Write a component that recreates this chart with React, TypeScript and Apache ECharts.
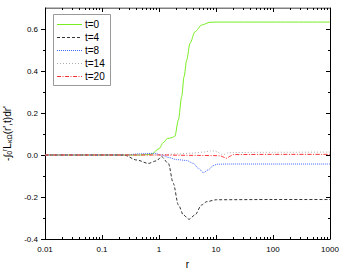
import React, { useEffect, useRef } from "react";
import * as echarts from "echarts";

// ---- data ----
const rT0 = [0.01, 0.1, 0.5, 0.74, 1.0, 1.2, 1.4, 1.7, 1.9, 2.19, 2.5, 2.75, 3.06, 3.5, 4.28, 5.6, 7.85, 10, 100, 1000];
const vT0 = [0, 0, 0, 0.004, 0.03, 0.06, 0.078, 0.083, 0.09, 0.167, 0.278, 0.373, 0.452, 0.532, 0.587, 0.619, 0.632, 0.633, 0.633, 0.633];

const rT4 = [0.01, 0.24, 0.41, 0.65, 0.9, 1.11, 1.46, 1.78, 2.19, 2.69, 3.36, 4.26, 5.6, 6.9, 10.2, 100, 1000];
const vT4 = [0, 0, -0.024, -0.04, -0.028, -0.008, -0.04, -0.135, -0.238, -0.286, -0.306, -0.286, -0.238, -0.222, -0.213, -0.212, -0.212];

const rT8 = [0.01, 0.25, 0.5, 0.85, 1.1, 1.5, 2.04, 3.06, 4.0, 4.9, 6.0, 7.3, 8.9, 10.4, 15, 100, 1000];
const vT8 = [0, 0, 0.006, 0.008, 0.0, -0.012, -0.022, -0.026, -0.04, -0.063, -0.084, -0.071, -0.051, -0.044, -0.043, -0.043, -0.043];

const rT14 = [0.01, 0.8, 1.2, 2.0, 4.0, 6.0, 8.0, 9.5, 11, 12.5, 14, 16, 20, 100, 1000];
const vT14 = [0, 0, 0.002, 0.005, 0.009, 0.014, 0.019, 0.019, 0.012, 0.004, 0.003, 0.01, 0.012, 0.013, 0.014];

const rT20 = [0.01, 1, 5, 10, 12, 13.5, 15.5, 17.5, 20, 100, 1000];
const vT20 = [0, 0, -0.002, -0.003, -0.004, -0.01, -0.016, -0.006, 0.002, 0.003, 0.003];

const seriesNames = ["t=0", "t=4", "t=8", "t=14", "t=20"];
const seriesR = [rT0, rT4, rT8, rT14, rT20];
const seriesV = [vT0, vT4, vT8, vT14, vT20];
const seriesColors = ["#77ee22", "#333333", "#4466ff", "#aaaaaa", "#ff3333"];
const seriesDash: any[] = [null, [3, 2], [1, 1], [1, 2], [4, 1.5, 1, 1.5]];

const xMajor = [0.01, 0.1, 1, 10, 100, 1000];
const xMinorMultipliers = [2, 3, 4, 5, 6, 7, 8, 9];
const yMajor = [-0.4, -0.2, 0, 0.2, 0.4, 0.6];
const yMinor = [-0.3, -0.1, 0.1, 0.3, 0.5];

const xMinor: number[] = [];
xMajor.slice(0, -1).forEach((d) => xMinorMultipliers.forEach((m) => xMinor.push(+(d * m).toPrecision(3))));

const pairs = (r: number[], v: number[]) => r.map((x, i) => [x, v[i]]);

const X_MIN = 0.01;
const X_MAX = 1000;
const Y_MIN = -0.4;
const Y_MAX = 0.7;

export default function App() {
  const ref = useRef<HTMLDivElement>(null);
  useEffect(() => {
    document.body.style.margin = "0";
    const chart = echarts.init(ref.current!, null, { renderer: "svg" });
    const font = "Liberation Sans, Arial, sans-serif";
    const axisCol = "#000";

    const xTickSeries = (len: number) => ({
      type: "custom",
      silent: true,
      clip: false,
      xAxisIndex: 0,
      yAxisIndex: 0,
      data: xMinor.map((x) => [x, Y_MIN]),
      renderItem: (_p: any, api: any) => {
        const x = api.value(0);
        const b = api.coord([x, Y_MIN]);
        const t = api.coord([x, Y_MAX]);
        const cx = Math.round(b[0]) + 0.5;
        return {
          type: "group",
          children: [
            { type: "line", shape: { x1: cx, y1: b[1], x2: cx, y2: b[1] - len }, style: { stroke: axisCol, lineWidth: 1 } },
            { type: "line", shape: { x1: cx, y1: t[1], x2: cx, y2: t[1] + len }, style: { stroke: axisCol, lineWidth: 1 } },
          ],
        };
      },
    });
    const yTickSeries = (values: number[], len: number) => ({
      type: "custom",
      silent: true,
      clip: false,
      xAxisIndex: 0,
      yAxisIndex: 0,
      data: values.map((y) => [X_MIN, y]),
      renderItem: (_p: any, api: any) => {
        const y = api.value(1);
        const l = api.coord([X_MIN, y]);
        const r = api.coord([X_MAX, y]);
        const cy = Math.round(l[1]) + 0.5;
        return {
          type: "group",
          children: [
            { type: "line", shape: { x1: l[0], y1: cy, x2: l[0] - len, y2: cy }, style: { stroke: axisCol, lineWidth: 1 } },
            { type: "line", shape: { x1: r[0], y1: cy, x2: r[0] - len, y2: cy }, style: { stroke: axisCol, lineWidth: 1 } },
          ],
        };
      },
    });

    const legendX = 53;
    const legendY = 14;
    const rowH = 13;
    const legendGraphic = {
      type: "group",
      z: 100,
      children: [
        { type: "rect", shape: { x: legendX + 0.5, y: legendY + 0.5, width: 57, height: 71 }, style: { fill: "#fff", stroke: "#999", lineWidth: 1 } },
        ...seriesNames.flatMap((name, i) => {
          const cy = legendY + 10.5 + i * rowH;
          return [
            {
              type: "line",
              shape: { x1: legendX + 4, y1: cy, x2: legendX + 29, y2: cy },
              style: { stroke: seriesColors[i], lineWidth: 1, lineDash: seriesDash[i] },
            },
            {
              type: "text",
              x: legendX + 32,
              y: cy,
              style: { text: name, font: `10px ${font}`, fill: "#000", verticalAlign: "middle", align: "left" },
            },
          ];
        }),
      ],
    };

    const option: any = {
      animation: false,
      backgroundColor: "#fff",
      textStyle: { fontFamily: font },
      grid: { left: 45, right: 21, top: 8, bottom: 32, containLabel: false, outerBoundsMode: "none" },
      graphic: [legendGraphic],
      xAxis: {
        type: "log",
        logBase: 10,
        min: X_MIN,
        max: X_MAX,
        position: "bottom",
        name: "r",
        nameLocation: "middle",
        nameGap: 20,
        nameTextStyle: { fontSize: 10, color: "#000", fontFamily: font },
        splitLine: { show: false },
        minorTick: { show: false },
        axisLine: { show: true, onZero: false, lineStyle: { color: axisCol, width: 1 } },
        axisTick: { show: true, inside: true, length: 4, lineStyle: { color: axisCol, width: 1 } },
        axisLabel: { show: true, fontSize: 8, color: "#000", margin: 6, formatter: (v: number) => String(v) },
      },
      yAxis: [
        {
          type: "value",
          min: Y_MIN,
          max: Y_MAX,
          interval: 0.2,
          position: "left",
          splitLine: { show: false },
          name: "-∫{sub|0}{sup|r}L{sub|κΩ}(r',t)dr'",
          nameLocation: "middle",
          nameRotate: 90,
          nameGap: 30,
          nameTextStyle: {
            fontSize: 10,
            color: "#000",
            fontFamily: font,
            padding: [0, 20, 0, 0],
            rich: {
              sub: { fontSize: 7, verticalAlign: "bottom", padding: [5, 0, 0, 0], fontFamily: font, color: "#000" },
              sup: { fontSize: 7, verticalAlign: "top", padding: [0, 0, 5, 0], fontFamily: font, color: "#000" },
            },
          },
          axisLine: { show: true, onZero: false, lineStyle: { color: axisCol, width: 1 } },
          axisTick: { show: false },
          axisLabel: { show: true, fontSize: 8, color: "#000", margin: 7, showMaxLabel: false, formatter: (v: number) => v.toFixed(1) },
        },
        {
          type: "value",
          min: Y_MIN,
          max: Y_MAX,
          interval: 0.2,
          position: "right",
          splitLine: { show: false },
          axisLine: { show: true, onZero: false, lineStyle: { color: axisCol, width: 1 } },
          axisTick: { show: false },
          axisLabel: { show: false },
        },
      ],
      series: [
        ...seriesNames.map((name, i) => ({
          name,
          type: "line",
          xAxisIndex: 0,
          yAxisIndex: 0,
          data: pairs(seriesR[i], seriesV[i]),
          symbol: "none",
          showSymbol: false,
          smooth: 0.3,
          smoothMonotone: "x",
          itemStyle: { color: seriesColors[i] },
          lineStyle: { width: 1, color: seriesColors[i], type: seriesDash[i] || "solid" },
        })),
        xTickSeries(2),
        yTickSeries(yMajor, 4),
        yTickSeries(yMinor, 2),
        {
          type: "custom",
          silent: true,
          clip: false,
          xAxisIndex: 0,
          yAxisIndex: 0,
          data: xMajor.map((x) => [x, Y_MAX]),
          renderItem: (_p: any, api: any) => {
            const t = api.coord([api.value(0), Y_MAX]);
            const cx = Math.round(t[0]) + 0.5;
            return { type: "line", shape: { x1: cx, y1: t[1], x2: cx, y2: t[1] + 4 }, style: { stroke: axisCol, lineWidth: 1 } };
          },
        },
        {
          type: "line",
          xAxisIndex: 0,
          yAxisIndex: 0,
          data: [[X_MIN, Y_MAX], [X_MAX, Y_MAX]],
          symbol: "none",
          silent: true,
          lineStyle: { color: axisCol, width: 1 },
        },
      ],
    };
    chart.setOption(option);
    return () => chart.dispose();
  }, []);
  return <div ref={ref} style={{ width: 351, height: 271 }} />;
}
